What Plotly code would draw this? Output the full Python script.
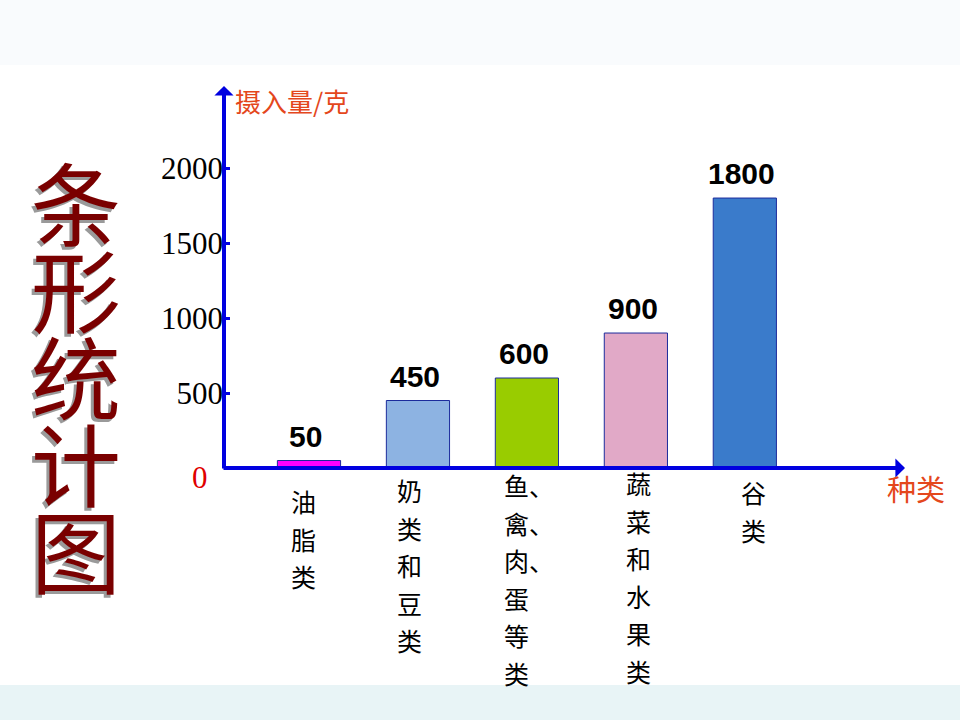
import plotly.graph_objects as go

# ---- data ----
categories = ["油脂类", "奶类和豆类", "鱼、禽、肉、蛋等类", "蔬菜和水果类", "谷类"]
label_lines = [["油", "脂", "类"],
               ["奶", "类", "和", "豆", "类"],
               ["鱼、", "禽、", "肉、", "蛋", "等", "类"],
               ["蔬", "菜", "和", "水", "果", "类"],
               ["谷", "类"]]
values = [50, 450, 600, 900, 1800]
value_labels = ["50", "450", "600", "900", "1800"]
y_tickvals = [500, 1000, 1500, 2000]
y_ticktext = ["500", "1000", "1500", "2000"]
title_chars = ["条", "形", "统", "计", "图"]

# ---- styles ----
bar_colors = ["#ff00ff", "#8db3e2", "#99cc00", "#e1a9c7", "#3a7bcb"]
axis_blue = "#0000e0"
red_orange = "#e4471c"
label_xshift = [-7, -10, -12, 1, 7]      # column offsets (px) of vertical labels
label_top = [33, 22, 17, 15, 24]         # first char centre below axis (px)
char_step = 37.5

W, H = 960, 720
L, R, T, B = 224, 55, 86, 252
PW, PH = W - L - R, H - T - B


def px_to_paper(px, py):
    return (px - L) / PW, (T + PH - py) / PH


fig = go.Figure()
fig.add_trace(go.Bar(
    x=categories, y=values, width=0.58,
    marker=dict(color=bar_colors, line=dict(color="#1c2c9c", width=1)),
    hoverinfo="skip", showlegend=False,
))

ann = []
# value labels above bars
for c, v, t in zip(categories, values, value_labels):
    ann.append(dict(x=c, y=v, xref="x", yref="y", text="<b>" + t + "</b>",
                    showarrow=False, yanchor="bottom", yshift=6, xshift=-3,
                    font=dict(family="Liberation Sans, Arial", size=30, color="black")))
# vertical category labels
for i, (c, lines) in enumerate(zip(categories, label_lines)):
    for j, ch in enumerate(lines):
        ann.append(dict(x=c, y=0, xref="x", yref="paper", text=ch, showarrow=False,
                        xanchor="left", yanchor="middle",
                        xshift=label_xshift[i] - 12.5,
                        yshift=-(label_top[i] + j * char_step),
                        font=dict(family="Noto Sans CJK SC", size=25, color="black")))
# axes arrows
ann.append(dict(x=0, y=1, xref="paper", yref="paper", ax=0, ay=PH + 2, axref="pixel", ayref="pixel",
                showarrow=True, arrowhead=1, arrowsize=0.8, arrowwidth=4, arrowcolor=axis_blue,
                standoff=0, text=""))
ann.append(dict(x=1, y=0, xref="paper", yref="paper", ax=-(PW + 2), ay=0, axref="pixel", ayref="pixel",
                showarrow=True, arrowhead=1, arrowsize=0.8, arrowwidth=4, arrowcolor=axis_blue,
                standoff=0, text=""))
# axis titles
ann.append(dict(x=0, y=1, xref="paper", yref="paper", text="摄入量/克", showarrow=False,
                xanchor="left", yanchor="middle", xshift=9, yshift=-14,
                font=dict(family="Noto Sans CJK SC", size=26, color=red_orange)))
ann.append(dict(x=1, y=0, xref="paper", yref="paper", text="种类", showarrow=False,
                xanchor="left", yanchor="middle", xshift=-20, yshift=-20,
                font=dict(family="Noto Sans CJK SC", size=29, color=red_orange)))
ann.append(dict(x=0, y=0, xref="paper", yref="paper", text="0", showarrow=False,
                xanchor="center", yanchor="middle", xshift=-24, yshift=-9,
                font=dict(family="Liberation Serif", size=31, color="#e00000")))
# big vertical title with grey drop shadow
for k, ch in enumerate(title_chars):
    tx, ty = px_to_paper(76, 200 + k * 87)
    ann.append(dict(x=tx, y=ty, xref="paper", yref="paper", text=ch,
                    showarrow=False, xanchor="center", yanchor="middle",
                    font=dict(family="Noto Sans CJK SC", size=90, color="#7a0000",
                              shadow="-3px 3px 0px #9a9a9a")))

bx0, _ = px_to_paper(0, 0)
bx1, _ = px_to_paper(W, 0)
shapes = [
    dict(type="rect", xref="paper", yref="paper", layer="below",
         x0=bx0, x1=bx1, y0=px_to_paper(0, 65)[1], y1=px_to_paper(0, 0)[1],
         fillcolor="#f9fbfd", line=dict(width=0)),
    dict(type="rect", xref="paper", yref="paper", layer="below",
         x0=bx0, x1=bx1, y0=px_to_paper(0, 720)[1], y1=px_to_paper(0, 685)[1],
         fillcolor="#e8f4f6", line=dict(width=0)),
]

fig.update_layout(
    width=W, height=H, margin=dict(l=L, r=R, t=T, b=B),
    paper_bgcolor="white", plot_bgcolor="white",
    annotations=ann, shapes=shapes, showlegend=False,
    xaxis=dict(type="category", range=[-0.78, 5.47], showticklabels=False, ticks="",
               showgrid=False, zeroline=False, showline=False, fixedrange=True),
    yaxis=dict(range=[0, 2547], tickvals=y_tickvals, ticktext=y_ticktext,
               ticks="inside", ticklen=6, tickwidth=3, tickcolor=axis_blue,
               tickfont=dict(family="Liberation Serif", size=31, color="black"),
               showgrid=False, zeroline=False, showline=False, fixedrange=True),
)

fig.write_html("out.html")
